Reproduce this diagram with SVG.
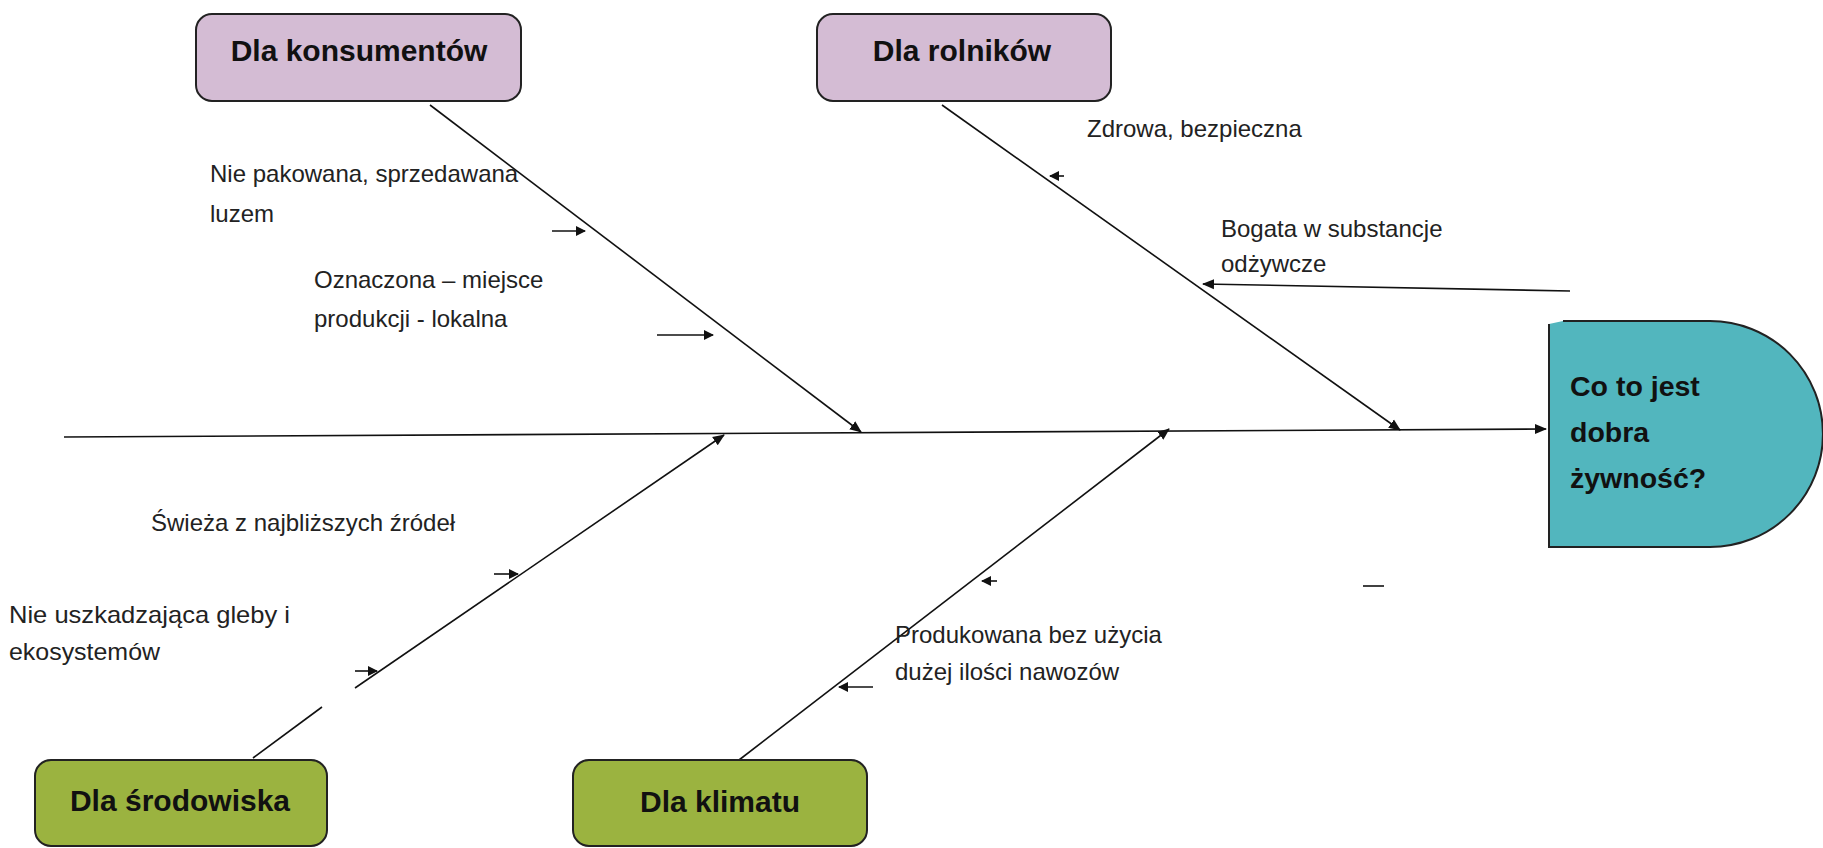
<svg xmlns="http://www.w3.org/2000/svg" width="1823" height="848" viewBox="0 0 1823 848">
<style>
.box{stroke:#222;stroke-width:2}
.purple{fill:#d4bcd4}
.green{fill:#9bb340}
.head{fill:#52b6be;stroke:#222;stroke-width:2}
.bt{font-family:"Liberation Sans",Arial,sans-serif;font-weight:bold;font-size:30px;fill:#111;text-anchor:middle}
.ht{font-family:"Liberation Sans",Arial,sans-serif;font-weight:bold;font-size:28.5px;fill:#111}
.lt{font-family:"Liberation Sans",Arial,sans-serif;font-size:24px;fill:#222}
.ln{stroke:#111;stroke-width:1.6;fill:none}
</style>
<defs>
<marker id="ah" markerWidth="10" markerHeight="10" refX="9" refY="5" orient="auto" markerUnits="userSpaceOnUse">
<path d="M0,0 L10,5 L0,10 z" fill="#111"/>
</marker>
<marker id="sh" markerWidth="12" markerHeight="12" refX="11" refY="6" orient="auto" markerUnits="userSpaceOnUse">
<path d="M0,1 L12,6 L0,11 z" fill="#111"/>
</marker>
</defs>
<rect width="1823" height="848" fill="#fff"/>
<g id="connectors">
<line class="ln" x1="64" y1="437" x2="1546" y2="429" marker-end="url(#sh)"/>
<line class="ln" x1="430" y1="105" x2="861" y2="432" marker-end="url(#sh)"/>
<line class="ln" x1="942" y1="105" x2="1400" y2="430" marker-end="url(#sh)"/>
<line class="ln" x1="253" y1="758" x2="322" y2="707"/>
<line class="ln" x1="355" y1="688" x2="724" y2="435" marker-end="url(#sh)"/>
<line class="ln" x1="739" y1="760" x2="1169" y2="429" marker-end="url(#sh)"/>
<line class="ln" x1="552" y1="231" x2="585" y2="231" marker-end="url(#ah)"/>
<line class="ln" x1="657" y1="335" x2="713" y2="335" marker-end="url(#ah)"/>
<line class="ln" x1="1064" y1="176" x2="1050" y2="176" marker-end="url(#ah)"/>
<line class="ln" x1="1570" y1="291" x2="1203" y2="284" marker-end="url(#sh)"/>
<line class="ln" x1="494" y1="574" x2="518" y2="574" marker-end="url(#ah)"/>
<line class="ln" x1="355" y1="671" x2="377" y2="671" marker-end="url(#ah)"/>
<line class="ln" x1="997" y1="581" x2="982" y2="581" marker-end="url(#ah)"/>
<line class="ln" x1="873" y1="687" x2="839" y2="687" marker-end="url(#ah)"/>
<line class="ln" x1="1363" y1="586" x2="1384" y2="586"/>
</g>
<g id="n-konsumenci">
<rect class="box purple" x="196" y="14" width="325" height="87" rx="16"/>
<text class="bt" x="359" y="61">Dla konsumentów</text>
</g>
<g id="n-rolnicy">
<rect class="box purple" x="817" y="14" width="294" height="87" rx="16"/>
<text class="bt" x="962" y="61">Dla rolników</text>
</g>
<g id="n-srodowisko">
<rect class="box green" x="35" y="760" width="292" height="86" rx="16"/>
<text class="bt" x="180" y="811">Dla środowiska</text>
</g>
<g id="n-klimat">
<rect class="box green" x="573" y="760" width="294" height="86" rx="16"/>
<text class="bt" x="720" y="812">Dla klimatu</text>
</g>
<g id="n-head">
<path class="head" d="M1549,324 L1549,547 L1710,547 A113,113 0 0 0 1710,321 L1563,321"/>
<text class="ht" x="1570" y="396">Co to jest</text>
<text class="ht" x="1570" y="442">dobra</text>
<text class="ht" x="1570" y="488">żywność?</text>
</g>
<g id="labels">
<text class="lt" x="210" y="182">Nie pakowana, sprzedawana</text>
<text class="lt" x="210" y="222">luzem</text>
<text class="lt" x="314" y="288">Oznaczona – miejsce</text>
<text class="lt" x="314" y="327">produkcji - lokalna</text>
<text class="lt" x="1087" y="137">Zdrowa, bezpieczna</text>
<text class="lt" x="1221" y="237">Bogata w substancje</text>
<text class="lt" x="1221" y="272">odżywcze</text>
<text class="lt" x="151" y="531">Świeża z najbliższych źródeł</text>
<text class="lt" x="9" y="623" textLength="281" lengthAdjust="spacingAndGlyphs">Nie uszkadzająca gleby i</text>
<text class="lt" x="9" y="660" textLength="151" lengthAdjust="spacingAndGlyphs">ekosystemów</text>
<text class="lt" x="895" y="643">Produkowana bez użycia</text>
<text class="lt" x="895" y="680">dużej ilości nawozów</text>
</g>
</svg>
